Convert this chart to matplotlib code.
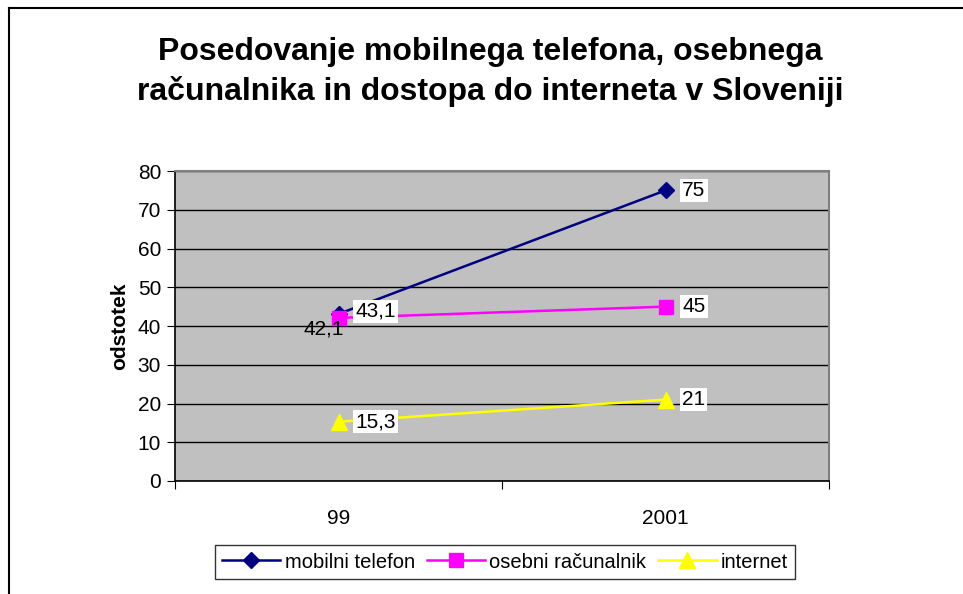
import matplotlib
matplotlib.use("Agg")
import matplotlib.pyplot as plt
from matplotlib.lines import Line2D

plt.rcParams['font.family'] = ['Liberation Sans', 'DejaVu Sans']

categories = ["99", "2001"]
mobilni = [43.1, 75]
racunalnik = [42.1, 45]
internet = [15.3, 21]
series_names = ["mobilni telefon", "osebni računalnik", "internet"]
title = "Posedovanje mobilnega telefona, osebnega\nračunalnika in dostopa do interneta v Sloveniji"
ylabel = "odstotek"

W, H = 963, 594
fig = plt.figure(figsize=(W / 100, H / 100), dpi=100)

# plot area in pixels
L, R, T, B = 175, 829, 171, 481
ax = fig.add_axes([L / W, 1 - B / H, (R - L) / W, (B - T) / H])
ax.set_facecolor("#C0C0C0")

x = [0.5, 1.5]
ax.set_xlim(0, 2)
ax.set_ylim(0, 80)
ax.set_yticks(range(0, 81, 10))
ax.set_xticks([0, 1, 2])
ax.set_xticklabels([])
ax.xaxis.set_minor_locator(matplotlib.ticker.FixedLocator(x))
ax.set_xticklabels(categories, minor=True)
ax.tick_params(axis='x', which='minor', length=0, pad=20, labelsize=15)
ax.tick_params(axis='x', which='major', length=6, direction='out', color='black')
ax.tick_params(axis='y', which='major', length=6, direction='out', labelsize=15, pad=4)
ax.yaxis.grid(True, color='black', linewidth=1)
ax.set_axisbelow(True)
for s in ['top', 'right']:
    ax.spines[s].set_color('#808080')
    ax.spines[s].set_linewidth(1.5)
for s in ['left', 'bottom']:
    ax.spines[s].set_color('black')
    ax.spines[s].set_linewidth(1.2)

colors = ["#000080", "#FF00FF", "#FFFF00"]
markers = ["D", "s", "^"]
msizes = [8, 10, 11]
data = [mobilni, racunalnik, internet]
for d, c, m, ms, n in zip(data, colors, markers, msizes, series_names):
    ax.plot(x, d, color=c, marker=m, markersize=ms, linewidth=1.8, label=n,
            markeredgecolor=c, zorder=3, clip_on=False)

def lab(xx, yy, txt, dx=14, dy=0, bg=True, ha='left'):
    kw = dict(fontsize=15, va='center', ha=ha, zorder=5)
    if bg:
        kw['bbox'] = dict(boxstyle='square,pad=0.1', facecolor='white', edgecolor='none')
    ax.annotate(txt, (xx, yy), xytext=(dx, dy), textcoords='offset points', **kw)

def fmt(v):
    return (("%g" % v)).replace('.', ',')

lab(x[0], mobilni[0], fmt(mobilni[0]), dx=12, dy=2)
lab(x[0], racunalnik[0], fmt(racunalnik[0]), dx=-25, dy=-8, bg=False)
lab(x[1], mobilni[1], fmt(mobilni[1]), dx=12)
lab(x[1], racunalnik[1], fmt(racunalnik[1]), dx=12)
lab(x[0], internet[0], fmt(internet[0]), dx=12)
lab(x[1], internet[1], fmt(internet[1]), dx=12)

ax.set_ylabel(ylabel, fontsize=15, fontweight='bold', labelpad=6)

fig.text(490 / W, 1 - 72 / H, title, ha='center', va='center', fontsize=23,
         fontweight='bold', linespacing=1.4)

leg = fig.legend(loc='center', bbox_to_anchor=(505 / W, 1 - 562 / H), ncol=3,
                 fontsize=14.5, frameon=True, fancybox=False, edgecolor='black',
                 handlelength=2.9, handletextpad=0.2, columnspacing=0.6,
                 borderpad=0.35, borderaxespad=0)
leg.get_frame().set_linewidth(1)

# outer chart border (left and top visible)
fig.add_artist(Line2D([9 / W, 9 / W], [0, 1 - 8 / H], color='black', linewidth=1.5,
                      transform=fig.transFigure))
fig.add_artist(Line2D([9 / W, 1], [1 - 8 / H, 1 - 8 / H], color='black', linewidth=1.5,
                      transform=fig.transFigure))

fig.savefig("out.png", dpi=100)
